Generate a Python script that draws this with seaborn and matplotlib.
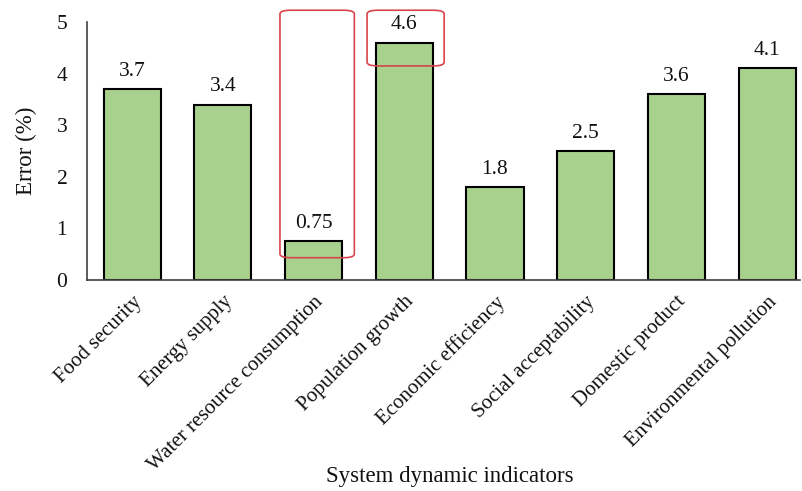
import matplotlib.pyplot as plt
import seaborn as sns
import pandas as pd
from matplotlib.patches import FancyBboxPatch

# 数据
indicators = ['Food security', 'Energy supply', 'Water resource consumption',
              'Population growth', 'Economic efficiency', 'Social acceptability',
              'Domestic product', 'Environmental pollution']
errors = [3.7, 3.4, 0.75, 4.6, 1.8, 2.5, 3.6, 4.1]
value_labels = ['3.7', '3.4', '0.75', '4.6', '1.8', '2.5', '3.6', '4.1']

df = pd.DataFrame({'indicator': indicators, 'error': errors})

sns.set_theme(style='white')
plt.rcParams['font.family'] = ['Liberation Serif', 'DejaVu Serif']
plt.rcParams['text.color'] = '#111111'
plt.rcParams['axes.labelcolor'] = '#111111'
plt.rcParams['xtick.color'] = '#111111'
plt.rcParams['ytick.color'] = '#111111'

fig = plt.figure(figsize=(8.03, 4.91), dpi=100)
ax = fig.add_axes([0.108, 0.430, 0.888, 0.525])

sns.barplot(data=df, x='indicator', y='error', color='#a9d18e', saturation=1,
            edgecolor='black', linewidth=1.5, width=0.63, ax=ax)

# 柱顶数值
for i, (v, lab) in enumerate(zip(errors, value_labels)):
    ax.text(i, v + 0.16, lab, ha='center', va='bottom', fontsize=15.5)

ax.set_ylim(0, 5)
ax.set_xlim(-0.5, 7.36)
ax.set_yticks([0, 1, 2, 3, 4, 5])
ax.tick_params(axis='y', labelsize=15.5, length=0, pad=14)
ax.tick_params(axis='x', labelsize=15, length=0, pad=9)
plt.setp(ax.get_xticklabels(), rotation=45, ha='right', rotation_mode='anchor')
ax.set_ylabel('Error (%)', fontsize=16.5, labelpad=14)
ax.set_xlabel('System dynamic indicators', fontsize=16.5)
ax.xaxis.set_label_coords(0.509, -0.764)
ax.xaxis.label.set_va('center')

for s in ['top', 'right']:
    ax.spines[s].set_visible(False)
for s in ['left', 'bottom']:
    ax.spines[s].set_color('#404040')
    ax.spines[s].set_linewidth(1.2)

# 红色圆角框
boxes = [(1.63, 0.43, 0.82, 4.80), (2.59, 4.15, 0.85, 1.08)]
for x0, y0, w, h in boxes:
    p = FancyBboxPatch((x0, y0), w, h, boxstyle='round,pad=0,rounding_size=0.12',
                       mutation_aspect=0.6, fill=False, edgecolor='#d9444a',
                       linewidth=1.2, clip_on=False, zorder=5)
    ax.add_patch(p)

fig.savefig('out.png', dpi=100)
